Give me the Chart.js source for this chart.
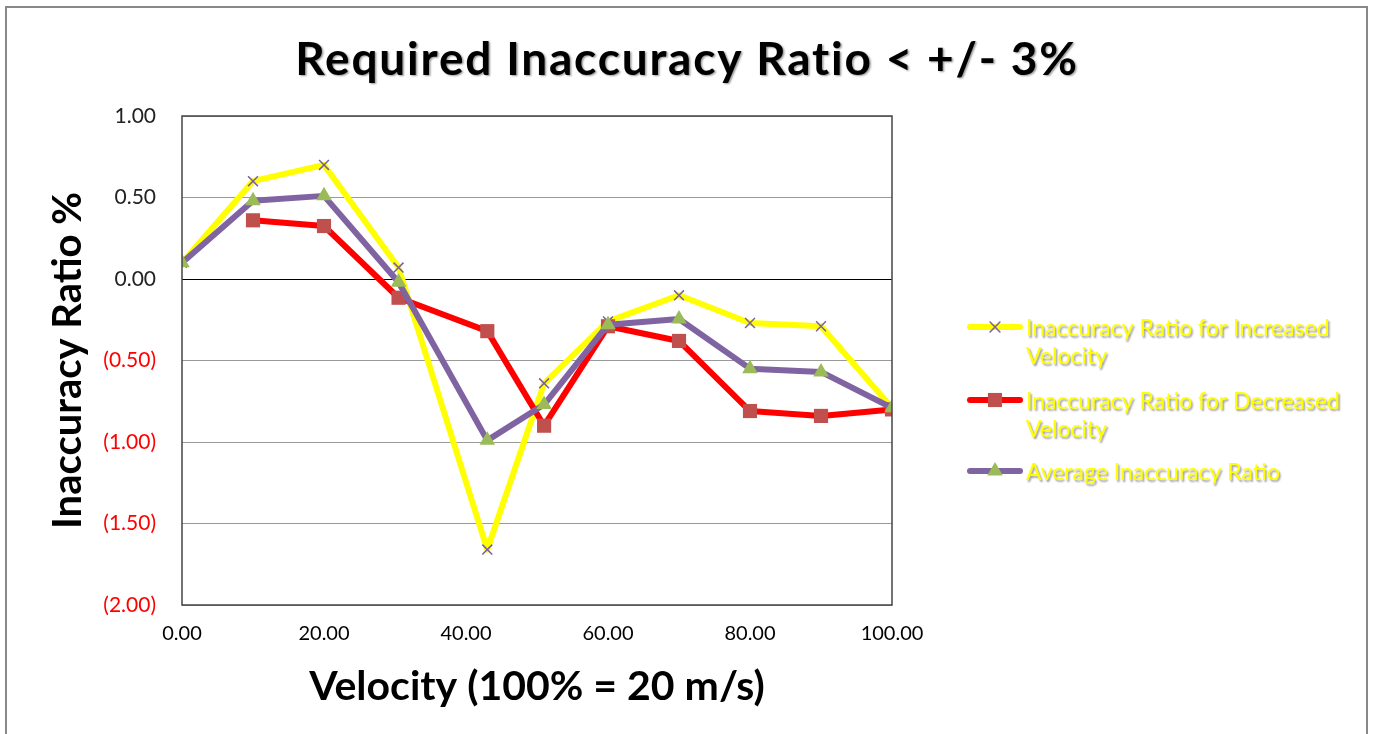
<!DOCTYPE html>
<html>
<head>
<meta charset="utf-8">
<script src="https://cdn.jsdelivr.net/npm/chart.js@4.4.0/dist/chart.umd.min.js"></script>
<style>
  html, body { margin: 0; padding: 0; background: #fff; }
  #wrap { position: relative; width: 1374px; height: 734px; }
</style>
</head>
<body>
<div id="wrap"><canvas id="myChart"></canvas></div>
<script>
// velocity (% of 20 m/s) and inaccuracy ratio %
const velocity = [0, 10, 20, 30.5, 43, 51, 60, 70, 80, 90, 100]
const increased = [0.10, 0.60, 0.70, 0.07, -1.66, -0.64, -0.26, -0.10, -0.27, -0.29, -0.79]
const decreased = [null, 0.36, 0.325, -0.115, -0.32, -0.90, -0.29, -0.38, -0.81, -0.84, -0.80]
const average = [0.10, 0.48, 0.51, -0.02, -0.99, -0.77, -0.28, -0.245, -0.55, -0.57, -0.79]
const xTicks = [0, 20, 40, 60, 80, 100]
const yTicks = [1, 0.5, 0, -0.5, -1, -1.5, -2]
const chartTitle = 'Required Inaccuracy Ratio < +/- 3%'
const legendLines = [
  ['Inaccuracy Ratio for Increased', 'Velocity'],
  ['Inaccuracy Ratio for Decreased', 'Velocity'],
  ['Average Inaccuracy Ratio']
]

function toPoints(arr) {
  return velocity.map((v, i) => ({ x: v, y: arr[i] }))
}

const FONT = 'Lato, "Open Sans", sans-serif'

function softShadow(c) {
  c.shadowColor = 'rgba(0,0,0,0.4)'
  c.shadowOffsetX = 1.5
  c.shadowOffsetY = 1.5
  c.shadowBlur = 2
}

// white page, frame round the whole chart, box round the plot area, title
const framePlugin = {
  id: 'frame',
  beforeDraw(chart) {
    const c = chart.ctx
    c.save()
    c.fillStyle = '#fff'
    c.fillRect(0, 0, chart.width, chart.height)
    c.restore()
  },
  afterDraw(chart) {
    const c = chart.ctx
    const a = chart.chartArea
    c.save()
    c.strokeStyle = '#444'
    c.lineWidth = 1.5
    c.strokeRect(a.left, a.top, a.right - a.left, a.bottom - a.top)
    c.strokeStyle = '#888'
    c.lineWidth = 2
    c.strokeRect(6, 7, chart.width - 13, chart.height + 20)
    // title, centred on the whole canvas
    c.font = 'bold 46px ' + FONT
    c.letterSpacing = '1.8px'
    c.textAlign = 'center'
    c.textBaseline = 'middle'
    c.fillStyle = '#000'
    softShadow(c)
    c.fillText(chartTitle, chart.width / 2, 60)
    c.restore()
  }
}

// legend on the right, with wrapped yellow text
const sideLegend = {
  id: 'sideLegend',
  afterDraw(chart) {
    const c = chart.ctx
    const rows = [327, 400, 471]
    chart.data.datasets.forEach((ds, i) => {
      const y = rows[i]
      c.save()
      c.strokeStyle = ds.borderColor
      c.lineWidth = ds.borderWidth
      c.lineCap = 'round'
      c.beginPath()
      c.moveTo(970, y)
      c.lineTo(1020, y)
      c.stroke()
      c.fillStyle = ds.pointBackgroundColor
      c.strokeStyle = ds.pointBorderColor
      c.lineWidth = ds.pointBorderWidth
      Chart.helpers.drawPoint(c, {
        pointStyle: ds.pointStyle,
        radius: ds.pointRadius,
        rotation: 0,
        borderWidth: ds.pointBorderWidth
      }, 995, y)
      c.font = '23px ' + FONT
      c.textBaseline = 'middle'
      c.fillStyle = '#ffff00'
      softShadow(c)
      legendLines[i].forEach((t, j) => {
        c.fillText(t, 1026, y + 2 + j * 28)
      })
      c.restore()
    })
  }
}

const ctx = document.getElementById('myChart')
const data = {
  datasets: [{
    label: 'Inaccuracy Ratio for Increased Velocity',
    data: toPoints(increased),
    borderColor: '#ffff00',
    borderWidth: 6,
    pointStyle: 'crossRot',
    pointRadius: 7,
    pointBackgroundColor: '#7a5ea0',
    pointBorderColor: '#7a5ea0',
    pointBorderWidth: 1.5,
    order: 3
  }, {
    label: 'Inaccuracy Ratio for Decreased Velocity',
    data: toPoints(decreased),
    borderColor: '#ff0000',
    borderWidth: 6,
    pointStyle: 'rect',
    pointRadius: 10,
    pointBackgroundColor: '#c0504d',
    pointBorderColor: '#c0504d',
    pointBorderWidth: 0,
    order: 2
  }, {
    label: 'Average Inaccuracy Ratio',
    data: toPoints(average),
    borderColor: '#8064a2',
    borderWidth: 6,
    pointStyle: 'triangle',
    pointRadius: 9,
    pointBackgroundColor: '#9bbb59',
    pointBorderColor: '#9bbb59',
    pointBorderWidth: 0,
    order: 1
  }]
}

const config = {
  type: 'line',
  data: data,
  plugins: [framePlugin, sideLegend],
  options: {
    responsive: true,
    maintainAspectRatio: false,
    animation: false,
    spanGaps: false,
    layout: { padding: { left: 8, right: 482, top: 116, bottom: 0 } },
    elements: { line: { tension: 0, borderJoinStyle: 'round', borderCapStyle: 'round' } },
    plugins: {
      legend: { display: false },
      tooltip: { enabled: false },
      title: { display: false }
    },
    scales: {
      x: {
        type: 'linear',
        min: 0,
        max: 100,
        afterBuildTicks: (scale) => { scale.ticks = xTicks.map(v => ({ value: v })) },
        afterFit: (scale) => { scale.height = 129 },
        grid: { display: false, drawTicks: false },
        border: { display: false },
        ticks: {
          color: '#000',
          font: { family: FONT, size: 20 },
          padding: 17,
          maxRotation: 0,
          callback: (v) => Number(v).toFixed(2)
        },
        title: {
          display: true,
          text: 'Velocity (100% = 20 m/s)',
          color: '#000',
          font: { family: FONT, size: 41, weight: 'bold' },
          padding: { top: 0, bottom: 23 }
        }
      },
      y: {
        min: -2,
        max: 1,
        afterBuildTicks: (scale) => { scale.ticks = yTicks.map(v => ({ value: v })) },
        afterFit: (scale) => { scale.width = 174 },
        grid: {
          drawTicks: false,
          color: (c) => c.tick && c.tick.value === 0 ? '#000' : '#999',
          lineWidth: 1
        },
        border: { display: false },
        ticks: {
          font: { family: FONT, size: 21 },
          padding: 26,
          color: (c) => c.tick && c.tick.value < 0 ? '#ff0000' : '#222',
          callback: (v) => v < 0 ? '(' + Math.abs(v).toFixed(2) + ')' : Number(v).toFixed(2)
        },
        title: {
          display: true,
          text: 'Inaccuracy Ratio %',
          color: '#000',
          font: { family: FONT, size: 40, weight: 'bold' },
          padding: { top: 36, bottom: 0 }
        }
      }
    }
  }
}
const myChart = new Chart(ctx, config)
</script>
</body>
</html>
